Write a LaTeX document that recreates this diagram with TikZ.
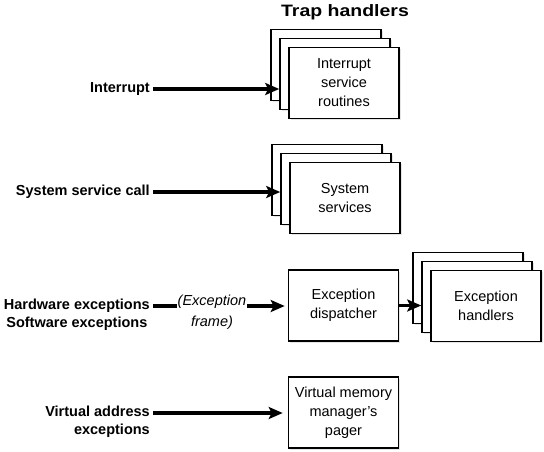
\documentclass[tikz,border=0pt]{standalone}
\usepackage{fontspec}
\setmainfont{Liberation Sans}
\usetikzlibrary{arrows.meta,shadows}

\tikzset{
  box/.style={draw, line width=1.6pt, fill=white, minimum width=110pt, minimum height=71pt,
    inner sep=2pt, align=center, font=\fontsize{14.5}{19}\selectfont,
    drop shadow={shadow xshift=1.5pt, shadow yshift=-1.5pt, fill=black!20}},
  src/.style={font=\bfseries\fontsize{14.5}{18}\selectfont, inner sep=3pt},
  feed/.style={line width=3.5pt, -{Stealth[length=14pt,width=12pt,inset=3pt]}},
}

\begin{document}
\begin{tikzpicture}[x=1pt, y=-1pt]
    \useasboundingbox (0,0) rectangle (544,451);
    \node[font=\bfseries\fontsize{16.5}{18}\selectfont] (title) at (345,12) {\scalebox{1.18}[1]{Trap handlers}};

    % interrupts
    \node[box] (ib) at (326,65) {};
    \node[box] (im) at ([shift={(9,9)}]ib) {};
    \node[box] (if) at ([shift={(9,9)}]im) {Interrupt\\service\\routines};
    \node[src, anchor=east] (int) at (153,89) {Interrupt};
    \draw[feed] (int.east) -- (int.east -| im.west);

    % system services
    \node[box] (sb) at (327,180) {};
    \node[box] (sm) at ([shift={(9,9)}]sb) {};
    \node[box] (sf) at ([shift={(9,9)}]sm) {System\\services};
    \node[src, anchor=east] (ssc) at (153,192) {System service call};
    \draw[feed] (ssc.east) -- (ssc.east -| sm.west);

    % exceptions
    \node[box] (disp) at (343.5,305.5) {Exception\\dispatcher};
    \node[box] (hb) at (468,288) {};
    \node[box] (hm) at ([shift={(9,9)}]hb) {};
    \node[box] (hf) at ([shift={(9,9)}]hm) {Exception\\handlers};
    \node[src, anchor=east, align=center] (hw) at (153,315) {Hardware exceptions\\Software exceptions};
    \node[font=\itshape\fontsize{14.5}{21}\selectfont, align=center, inner sep=1pt] (frame) at (212,312) {(Exception\\frame)};
    \draw[line width=3.5pt] ([yshift=9pt]hw.east) -- ([yshift=9pt]hw.east -| frame.west);
    \draw[feed, shorten >=3pt] ([yshift=9pt]hw.east -| frame.east) -- ([yshift=9pt]hw.east -| disp.west);
    \draw[feed] (disp.east) -- (disp.east -| hm.west);

    % virtual memory
    \node[box] (vmm) at (343.5,412.5) {Virtual memory\\manager's\\pager};
    \node[src, anchor=east, align=right] (va) at (153,422) {Virtual address\\exceptions};
    \draw[feed, shorten >=5pt] ([yshift=9pt]va.east) -- ([yshift=9pt]va.east -| vmm.west);
\end{tikzpicture}
\end{document}
